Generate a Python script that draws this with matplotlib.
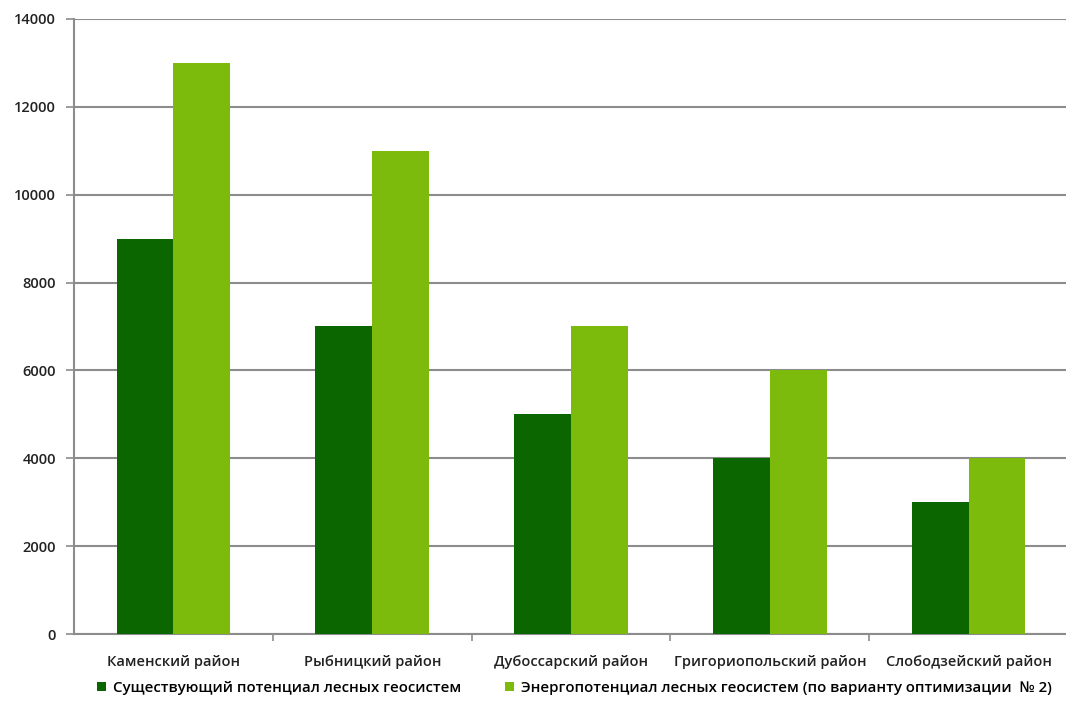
import matplotlib
matplotlib.use("Agg")
import matplotlib.pyplot as plt
import numpy as np

categories = ["Каменский район", "Рыбницкий район", "Дубоссарский район",
              "Григориопольский район", "Слободзейский район"]
existing = [9000, 7000, 5000, 4000, 3000]
optimized = [13000, 11000, 7000, 6000, 4000]
series_names = ["Существующий потенциал лесных геосистем",
                "Энергопотенциал лесных геосистем (по варианту оптимизации  № 2)"]
yticks = [0, 2000, 4000, 6000, 8000, 10000, 12000, 14000]

plt.rcParams['font.family'] = ['Open Sans', 'DejaVu Sans']

W, H = 1066, 711
fig = plt.figure(figsize=(W / 100, H / 100), dpi=100)
ax = fig.add_axes([74 / W, 1 - 634 / H, (1068 - 74) / W, (634 - 19) / H])

x = np.arange(len(categories))
w = 0.286
dark = "#0b6600"
light = "#7cbb0b"
txt = "#222222"
fs = 10.5
b1 = ax.bar(x - w/2, existing, width=w, color=dark, label=series_names[0], zorder=3)
b2 = ax.bar(x + w/2, optimized, width=w, color=light, label=series_names[1], zorder=3)

ax.set_xlim(-0.5, len(categories) - 0.5)
ax.set_ylim(0, 14000)
ax.set_yticks(yticks)
ax.set_yticklabels([str(v) for v in yticks], fontsize=fs, color=txt, fontweight="semibold")
ax.yaxis.grid(True, color="#8c8c8c", linewidth=1.5, zorder=0)
ax.set_axisbelow(True)

ax.set_xticks(x)
ax.set_xticklabels(categories, fontsize=fs, color=txt, fontweight="semibold")
ax.tick_params(axis='x', length=0, pad=15)
ax.set_xticks(np.arange(len(categories) - 1) + 0.5, minor=True)
ax.tick_params(axis='x', which='minor', length=5, color="#8c8c8c", width=1.2)
ax.tick_params(axis='y', length=6, color="#8c8c8c", width=1.2, pad=7)

for s in ["top", "right"]:
    ax.spines[s].set_visible(False)
for s in ["left", "bottom"]:
    ax.spines[s].set_color("#8c8c8c")
    ax.spines[s].set_linewidth(1.5)

common = dict(loc="center left", frameon=False, handlelength=0.6,
              handleheight=0.6, handletextpad=0.45, borderpad=0, borderaxespad=0,
              prop={"size": 10.8, "weight": "semibold"})
fig.legend(handles=[b1], labels=[series_names[0]],
           bbox_to_anchor=(97 / W, 1 - 688 / H), **common)
fig.legend(handles=[b2], labels=[series_names[1]],
           bbox_to_anchor=(505 / W, 1 - 688 / H), **common)

fig.savefig("out.png", dpi=100, facecolor="white")
